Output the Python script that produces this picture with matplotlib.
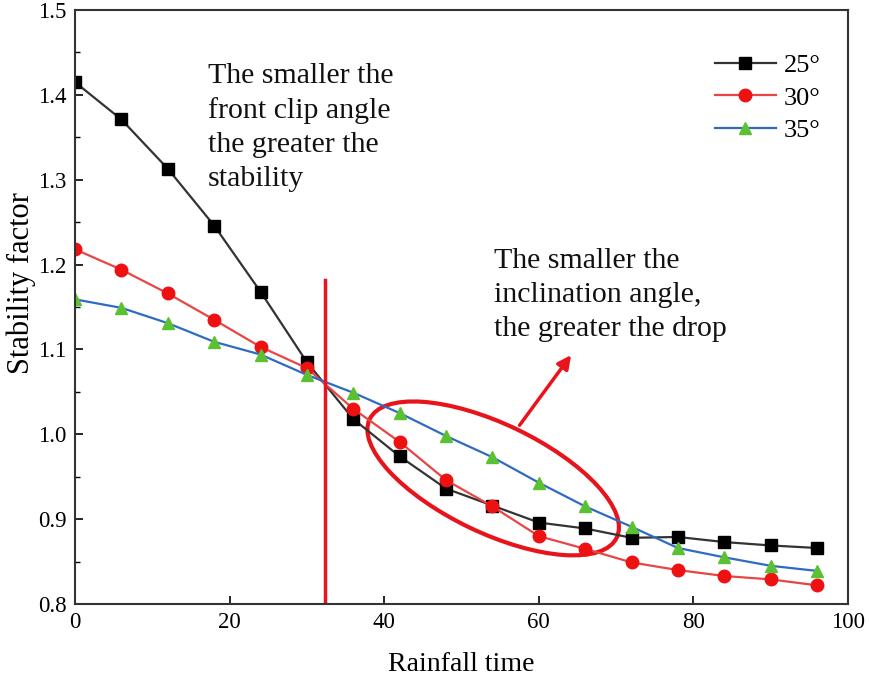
import numpy as np
import matplotlib
matplotlib.use("Agg")
import matplotlib.pyplot as plt
from matplotlib.patches import Ellipse
from matplotlib.transforms import ScaledTranslation

plt.rcParams['font.family'] = ['Liberation Serif', 'DejaVu Serif']

# data
rain_time = [0, 6, 12, 18, 24, 30, 36, 42, 48, 54, 60, 66, 72, 78, 84, 90, 96]
fs_25 = [1.415, 1.371, 1.313, 1.246, 1.168, 1.085, 1.018, 0.974, 0.936, 0.916, 0.896,
         0.889, 0.878, 0.879, 0.873, 0.869, 0.866]
fs_30 = [1.218, 1.194, 1.166, 1.135, 1.103, 1.078, 1.030, 0.991, 0.946, 0.915, 0.880,
         0.865, 0.849, 0.840, 0.833, 0.829, 0.822]
fs_35 = [1.159, 1.149, 1.131, 1.109, 1.094, 1.070, 1.049, 1.025, 0.998, 0.973, 0.943,
         0.915, 0.891, 0.866, 0.855, 0.845, 0.839]
labels = ['25°', '30°', '35°']

fig = plt.figure(figsize=(8.7, 6.76), dpi=100)
ax = fig.add_axes([0.0862, 0.1065, 0.8885, 0.8787])

ax.plot(rain_time, fs_25, color='#333333', lw=1.6, marker='s', ms=8,
        mfc='black', mec='black', label=labels[0])
ax.plot(rain_time, fs_30, color='#e84545', lw=1.6, marker='o', ms=9,
        mfc='#ee1111', mec='#ee1111', label=labels[1])
ax.plot(rain_time, fs_35, color='#2e6cc4', lw=1.6, marker='^', ms=9,
        mfc='#5cc132', mec='#5cc132', label=labels[2])

# vertical divider
ax.plot([32.3, 32.3], [0.8, 1.182], color='#e8141b', lw=2.5)

# ellipse around the drop region (size in inches, centred on a data point)
tr = fig.dpi_scale_trans + ScaledTranslation(54.1, 0.948, ax.transData)
ax.add_patch(Ellipse((0, 0), 2.74, 1.09, angle=-25.6, transform=tr,
                     fill=False, ec='#e8141b', lw=3))

ax.annotate('', xy=(64.4, 1.096), xytext=(57.3, 1.008),
            arrowprops=dict(arrowstyle='-|>', color='#e8141b', lw=2.5,
                            mutation_scale=20))

ax.text(17.2, 1.4376, 'The smaller the\nfront clip angle\nthe greater the\nstability',
        fontsize=21.5, va='top', ha='left', linespacing=1.4, color='#111111')
ax.text(54.2, 1.2197, 'The smaller the\ninclination angle,\nthe greater the drop',
        fontsize=21.5, va='top', ha='left', linespacing=1.4, color='#111111')

ax.set_xlim(0, 100)
ax.set_ylim(0.8, 1.5)
ax.set_xticks([0, 20, 40, 60, 80, 100])
ax.set_yticks([0.8, 0.9, 1.0, 1.1, 1.2, 1.3, 1.4, 1.5])
ax.set_yticks(np.arange(0.85, 1.5, 0.1), minor=True)
ax.tick_params(direction='in', length=6, width=1.2, labelsize=16.5, pad=6)
ax.tick_params(which='minor', direction='in', length=3.5, width=1)
for s in ax.spines.values():
    s.set_linewidth(1.5)
    s.set_color('#333333')

ax.set_xlabel('Rainfall time', fontsize=20)
ax.xaxis.set_label_coords(0.5, -0.08)
ax.set_ylabel('Stability factor', fontsize=22)
ax.yaxis.set_label_coords(-0.05, 0.54)

ax.legend(loc='upper right', bbox_to_anchor=(0.995, 0.967), frameon=False,
          fontsize=19, handlelength=2.3, handletextpad=0.3, labelspacing=0.35)

fig.savefig('out.png', dpi=100)
